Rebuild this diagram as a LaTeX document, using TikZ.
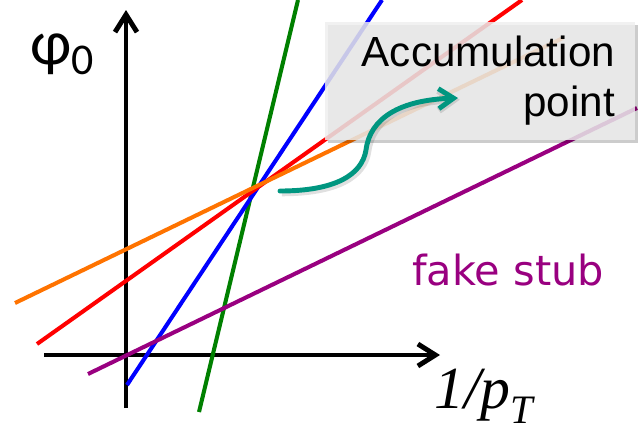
\documentclass[tikz,border=0pt]{standalone}
\usepackage{fontspec}
\setmainfont{Liberation Sans}
\newfontfamily\dejavu{DejaVu Sans}
\newfontfamily\carlito{Carlito}
\newfontfamily\timesfont{Liberation Serif}
\usepackage{xcolor}
\usepackage{tikz}
\usetikzlibrary{arrows.meta,shadows}

\definecolor{trkgreen}{RGB}{0,128,0}
\definecolor{trkblue}{RGB}{0,0,255}
\definecolor{trkred}{RGB}{255,0,0}
\definecolor{trkorange}{RGB}{255,115,0}
\definecolor{trkpurple}{RGB}{153,0,128}
\definecolor{pointteal}{RGB}{0,150,128}
\definecolor{boxgray}{RGB}{238,238,238}

\begin{document}
\begin{tikzpicture}[x=0.02cm, y=-0.02cm,
    axis/.style={line width=2.8pt, -{Straight Barb[length=3.5mm,width=4.4mm]}},
    track/.style={line width=2.3pt},
    accbox/.style={fill=boxgray, fill opacity=0.84, text opacity=1, minimum width=6.2cm, minimum height=2.36cm,
        inner xsep=0.4cm, text width=5.4cm, align=right, font=\fontsize{24}{28.4}\selectfont,
        drop shadow={shadow xshift=0.06cm, shadow yshift=-0.06cm, fill=black, opacity=0.2}},
    pointer/.style={line width=2.8pt, draw=pointteal, line cap=round, -{Straight Barb[length=3mm,width=4mm]}},
]
\useasboundingbox (0,0) rectangle (644,433);

\draw[axis] (44,355) -- (440,355);
\draw[axis] (126,408) -- (126,10);

\draw[track, trkgreen] (199,412) -- (298,0);
\draw[track, trkblue] (127,385) -- (382,0);
\draw[track, trkred] (37,344) -- (522,0);
\draw[track, trkorange] (15,303) -- (563,38);
\draw[track, trkpurple] (88,374) -- (637,108);

\node[accbox] (acc) at (480,81) {Accumulation\\point};

\draw[pointer, preaction={draw=black, draw opacity=0.12, line width=4pt, transform canvas={xshift=1pt,yshift=-1pt}}]
    (280,191) .. controls (335,191) and (362,175) .. (366,150) .. controls (370,118) and (400,100) .. (458,98);

\node[anchor=base west, inner sep=0pt] (phi) at (30,64) {\carlito\fontsize{36}{38}\selectfont φ\raisebox{-6pt}{\fontsize{25}{26}\selectfont 0}};
\node[anchor=base west, trkpurple] (fake) at (406,285) {\dejavu\fontsize{23.6}{26}\selectfont fake stub};
\node[anchor=base west] (pt) at (428,408) {\timesfont\itshape\fontsize{34}{36}\selectfont 1/p\raisebox{-9pt}{\fontsize{23}{24}\selectfont T}};
\end{tikzpicture}
\end{document}
